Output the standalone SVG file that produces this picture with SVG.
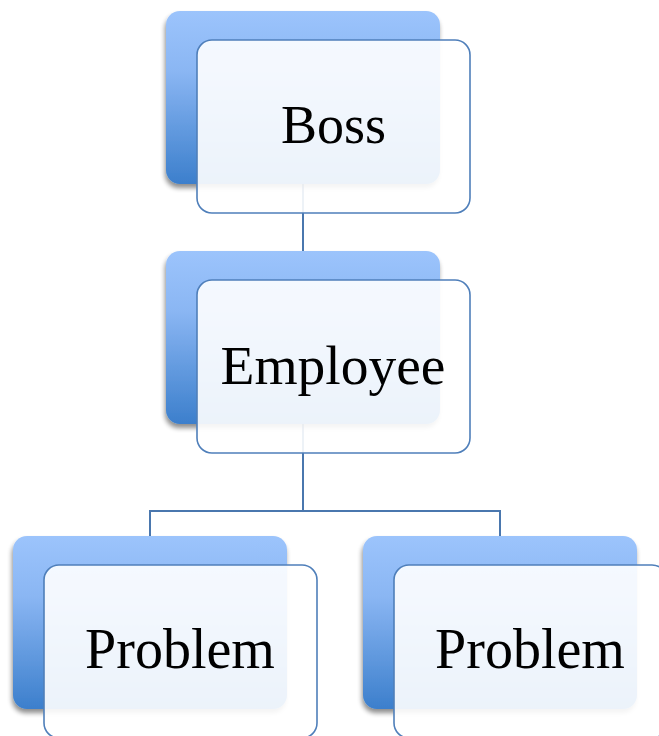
<svg xmlns="http://www.w3.org/2000/svg" width="659" height="736" viewBox="0 0 659 736">
<defs>
<linearGradient id="bg" x1="0" y1="0" x2="0" y2="1">
<stop offset="0" stop-color="#9cc4fc"/>
<stop offset="0.35" stop-color="#8ab6f3"/>
<stop offset="1" stop-color="#3c7fcc"/>
</linearGradient>
<filter id="sh" x="-10%" y="-10%" width="125%" height="125%">
<feGaussianBlur in="SourceAlpha" stdDeviation="2.5"/>
<feOffset dx="-1" dy="4"/>
<feComponentTransfer><feFuncA type="linear" slope="0.45"/></feComponentTransfer>
<feMerge><feMergeNode/><feMergeNode in="SourceGraphic"/></feMerge>
</filter>
<style>
.back{fill:url(#bg);filter:url(#sh)}
.front{fill:#ffffff;fill-opacity:0.9;stroke:#4f7fba;stroke-width:1.6}
.lbl{font-family:"Liberation Serif","Times New Roman",serif;font-size:54px;fill:#000;text-anchor:middle}
.conn{fill:none;stroke:#4a77ae;stroke-width:2}
</style>
</defs>
<g id="connectors">
<path class="conn" d="M303 184V251"/>
<path class="conn" d="M303 424V511M150 536V511H500V536"/>
</g>
<g id="boss">
<rect class="back" x="166" y="11" width="274" height="173" rx="14"/>
<rect class="front" x="197" y="40" width="273" height="173" rx="15"/>
<text class="lbl" x="333.5" y="143">Boss</text>
</g>
<g id="employee">
<rect class="back" x="166" y="251" width="274" height="173" rx="14"/>
<rect class="front" x="197" y="280" width="273" height="173" rx="15"/>
<text class="lbl" x="333" y="384" style="font-size:55.5px">Employee</text>
</g>
<g id="problem1">
<rect class="back" x="13" y="536" width="274" height="173" rx="14"/>
<rect class="front" x="44" y="565" width="273" height="173" rx="15"/>
<text class="lbl" x="180" y="668" style="font-size:56px">Problem</text>
</g>
<g id="problem2">
<rect class="back" x="363" y="536" width="274" height="173" rx="14"/>
<rect class="front" x="394" y="565" width="273" height="173" rx="15"/>
<text class="lbl" x="530" y="668" style="font-size:56px">Problem</text>
</g>
</svg>
